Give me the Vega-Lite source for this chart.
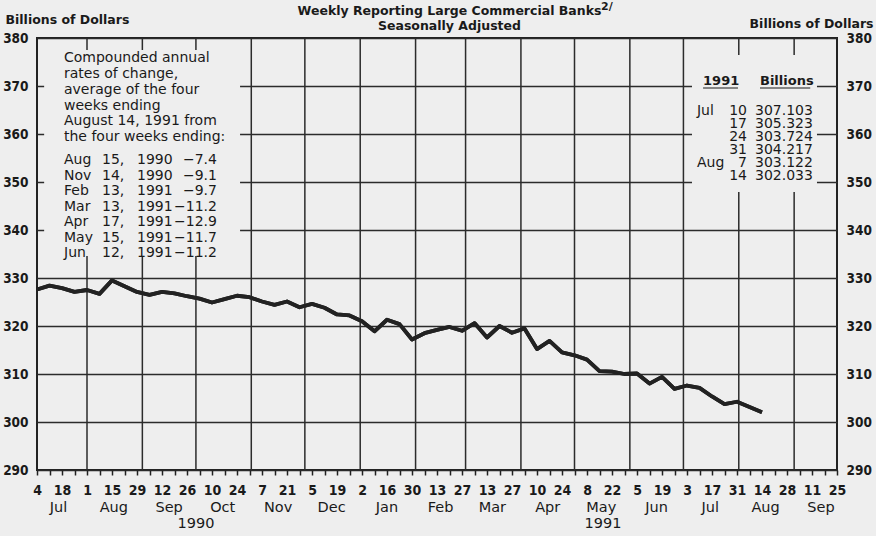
{
  "$schema": "https://vega.github.io/schema/vega-lite/v6.json",
  "width": 800,
  "height": 432,
  "autosize": {"type": "none"},
  "padding": {"left": 37, "top": 38, "right": 39, "bottom": 66},
  "background": "#eeeeee",
  "config": {
    "view": {"stroke": "#222222", "strokeWidth": 2},
    "font": "DejaVu Sans",
    "axisX": {"labelOverlap": false, "labelFlush": false},
    "axis": {"labelOverlap": false}
  },
  "datasets": {
    "series": [
      {"date": "1990-07-04", "value": 327.6},
      {"date": "1990-07-11", "value": 328.4},
      {"date": "1990-07-18", "value": 327.9},
      {"date": "1990-07-25", "value": 327.1},
      {"date": "1990-08-01", "value": 327.5},
      {"date": "1990-08-08", "value": 326.7},
      {"date": "1990-08-15", "value": 329.5},
      {"date": "1990-08-22", "value": 328.3},
      {"date": "1990-08-29", "value": 327.1},
      {"date": "1990-09-05", "value": 326.5},
      {"date": "1990-09-12", "value": 327.1},
      {"date": "1990-09-19", "value": 326.8},
      {"date": "1990-09-26", "value": 326.2},
      {"date": "1990-10-03", "value": 325.7},
      {"date": "1990-10-10", "value": 324.9},
      {"date": "1990-10-17", "value": 325.6},
      {"date": "1990-10-24", "value": 326.3},
      {"date": "1990-10-31", "value": 326.0},
      {"date": "1990-11-07", "value": 325.1},
      {"date": "1990-11-14", "value": 324.4},
      {"date": "1990-11-21", "value": 325.1},
      {"date": "1990-11-28", "value": 323.9},
      {"date": "1990-12-05", "value": 324.6},
      {"date": "1990-12-12", "value": 323.8},
      {"date": "1990-12-19", "value": 322.4},
      {"date": "1990-12-26", "value": 322.2},
      {"date": "1991-01-02", "value": 321.0},
      {"date": "1991-01-09", "value": 318.9},
      {"date": "1991-01-16", "value": 321.3},
      {"date": "1991-01-23", "value": 320.4},
      {"date": "1991-01-30", "value": 317.2},
      {"date": "1991-02-06", "value": 318.5},
      {"date": "1991-02-13", "value": 319.2},
      {"date": "1991-02-20", "value": 319.8},
      {"date": "1991-02-27", "value": 319.0},
      {"date": "1991-03-06", "value": 320.6},
      {"date": "1991-03-13", "value": 317.6},
      {"date": "1991-03-20", "value": 320.0},
      {"date": "1991-03-27", "value": 318.6},
      {"date": "1991-04-03", "value": 319.5},
      {"date": "1991-04-10", "value": 315.2},
      {"date": "1991-04-17", "value": 316.9},
      {"date": "1991-04-24", "value": 314.5},
      {"date": "1991-05-01", "value": 313.9},
      {"date": "1991-05-08", "value": 313.0},
      {"date": "1991-05-15", "value": 310.6},
      {"date": "1991-05-22", "value": 310.5},
      {"date": "1991-05-29", "value": 310.0},
      {"date": "1991-06-05", "value": 310.1},
      {"date": "1991-06-12", "value": 308.0},
      {"date": "1991-06-19", "value": 309.4},
      {"date": "1991-06-26", "value": 306.9},
      {"date": "1991-07-03", "value": 307.6},
      {"date": "1991-07-10", "value": 307.103},
      {"date": "1991-07-17", "value": 305.323},
      {"date": "1991-07-24", "value": 303.724},
      {"date": "1991-07-31", "value": 304.217},
      {"date": "1991-08-07", "value": 303.122},
      {"date": "1991-08-14", "value": 302.033}
    ],
    "monthStarts": [
      {"d": "1990-08-01"}, {"d": "1990-09-01"}, {"d": "1990-10-01"}, {"d": "1990-11-01"},
      {"d": "1990-12-01"}, {"d": "1991-01-01"}, {"d": "1991-02-01"}, {"d": "1991-03-01"},
      {"d": "1991-04-01"}, {"d": "1991-05-01"}, {"d": "1991-06-01"}, {"d": "1991-07-01"},
      {"d": "1991-08-01"}, {"d": "1991-09-01"}
    ],
    "monthLabels": [
      {"d": "1990-07-16", "label": "Jul"}, {"d": "1990-08-16", "label": "Aug"},
      {"d": "1990-09-16", "label": "Sep"}, {"d": "1990-10-16", "label": "Oct"},
      {"d": "1990-11-16", "label": "Nov"}, {"d": "1990-12-16", "label": "Dec"},
      {"d": "1991-01-16", "label": "Jan"}, {"d": "1991-02-15", "label": "Feb"},
      {"d": "1991-03-16", "label": "Mar"}, {"d": "1991-04-16", "label": "Apr"},
      {"d": "1991-05-16", "label": "May"}, {"d": "1991-06-16", "label": "Jun"},
      {"d": "1991-07-16", "label": "Jul"}, {"d": "1991-08-16", "label": "Aug"},
      {"d": "1991-09-16", "label": "Sep"}
    ],
    "years": [
      {"d": "1990-10-01", "label": "1990"},
      {"d": "1991-05-17", "label": "1991"}
    ]
  },
  "layer": [
    {
      "data": {"name": "series"},
      "mark": {"type": "line", "color": "#222222", "strokeWidth": 3.8, "strokeJoin": "round"},
      "encoding": {
        "x": {
          "field": "date", "type": "temporal", "title": null,
          "scale": {"type": "utc", "nice": false, "domain": [{"year": 1990, "month": 7, "date": 4, "utc": true}, {"year": 1991, "month": 9, "date": 25, "utc": true}]},
          "axis": {
            "orient": "bottom",
            "tickCount": 500,
            "values": [
              {"year": 1990, "month": 7, "date": 4, "utc": true}, {"year": 1990, "month": 7, "date": 11, "utc": true},
              {"year": 1990, "month": 7, "date": 18, "utc": true}, {"year": 1990, "month": 7, "date": 25, "utc": true},
              {"year": 1990, "month": 8, "date": 1, "utc": true}, {"year": 1990, "month": 8, "date": 8, "utc": true},
              {"year": 1990, "month": 8, "date": 15, "utc": true}, {"year": 1990, "month": 8, "date": 22, "utc": true},
              {"year": 1990, "month": 8, "date": 29, "utc": true}, {"year": 1990, "month": 9, "date": 5, "utc": true},
              {"year": 1990, "month": 9, "date": 12, "utc": true}, {"year": 1990, "month": 9, "date": 19, "utc": true},
              {"year": 1990, "month": 9, "date": 26, "utc": true}, {"year": 1990, "month": 10, "date": 3, "utc": true},
              {"year": 1990, "month": 10, "date": 10, "utc": true}, {"year": 1990, "month": 10, "date": 17, "utc": true},
              {"year": 1990, "month": 10, "date": 24, "utc": true}, {"year": 1990, "month": 10, "date": 31, "utc": true},
              {"year": 1990, "month": 11, "date": 7, "utc": true}, {"year": 1990, "month": 11, "date": 14, "utc": true},
              {"year": 1990, "month": 11, "date": 21, "utc": true}, {"year": 1990, "month": 11, "date": 28, "utc": true},
              {"year": 1990, "month": 12, "date": 5, "utc": true}, {"year": 1990, "month": 12, "date": 12, "utc": true},
              {"year": 1990, "month": 12, "date": 19, "utc": true}, {"year": 1990, "month": 12, "date": 26, "utc": true},
              {"year": 1991, "month": 1, "date": 2, "utc": true}, {"year": 1991, "month": 1, "date": 9, "utc": true},
              {"year": 1991, "month": 1, "date": 16, "utc": true}, {"year": 1991, "month": 1, "date": 23, "utc": true},
              {"year": 1991, "month": 1, "date": 30, "utc": true}, {"year": 1991, "month": 2, "date": 6, "utc": true},
              {"year": 1991, "month": 2, "date": 13, "utc": true}, {"year": 1991, "month": 2, "date": 20, "utc": true},
              {"year": 1991, "month": 2, "date": 27, "utc": true}, {"year": 1991, "month": 3, "date": 6, "utc": true},
              {"year": 1991, "month": 3, "date": 13, "utc": true}, {"year": 1991, "month": 3, "date": 20, "utc": true},
              {"year": 1991, "month": 3, "date": 27, "utc": true}, {"year": 1991, "month": 4, "date": 3, "utc": true},
              {"year": 1991, "month": 4, "date": 10, "utc": true}, {"year": 1991, "month": 4, "date": 17, "utc": true},
              {"year": 1991, "month": 4, "date": 24, "utc": true}, {"year": 1991, "month": 5, "date": 1, "utc": true},
              {"year": 1991, "month": 5, "date": 8, "utc": true}, {"year": 1991, "month": 5, "date": 15, "utc": true},
              {"year": 1991, "month": 5, "date": 22, "utc": true}, {"year": 1991, "month": 5, "date": 29, "utc": true},
              {"year": 1991, "month": 6, "date": 5, "utc": true}, {"year": 1991, "month": 6, "date": 12, "utc": true},
              {"year": 1991, "month": 6, "date": 19, "utc": true}, {"year": 1991, "month": 6, "date": 26, "utc": true},
              {"year": 1991, "month": 7, "date": 3, "utc": true}, {"year": 1991, "month": 7, "date": 10, "utc": true},
              {"year": 1991, "month": 7, "date": 17, "utc": true}, {"year": 1991, "month": 7, "date": 24, "utc": true},
              {"year": 1991, "month": 7, "date": 31, "utc": true}, {"year": 1991, "month": 8, "date": 7, "utc": true},
              {"year": 1991, "month": 8, "date": 14, "utc": true}, {"year": 1991, "month": 8, "date": 21, "utc": true},
              {"year": 1991, "month": 8, "date": 28, "utc": true}, {"year": 1991, "month": 9, "date": 4, "utc": true},
              {"year": 1991, "month": 9, "date": 11, "utc": true}, {"year": 1991, "month": 9, "date": 18, "utc": true},
              {"year": 1991, "month": 9, "date": 25, "utc": true}
            ],
            "labelExpr": "round((datum.value - utc(1990, 6, 4)) / 604800000) % 2 == 0 ? utcFormat(datum.value, '%-d') : ''",
            "tickSize": 5, "tickColor": "#222222", "tickWidth": 1.5,
            "domain": false, "grid": false, "labelFlush": false, "labelOverlap": false, "labelAngle": 0,
            "labelPadding": 8,
            "labelFont": "DejaVu Sans Condensed", "labelFontSize": 14, "labelFontWeight": "bold", "labelColor": "#1a1a1a"
          }
        },
        "y": {
          "field": "value", "type": "quantitative",
          "scale": {"domain": [290, 380], "nice": false, "zero": false},
          "axis": {
            "orient": "left", "values": [290, 300, 310, 320, 330, 340, 350, 360, 370, 380], "tickCount": 100,
            "grid": true, "gridColor": "#2b2b2b", "gridWidth": 1.5, "gridOpacity": 1,
            "ticks": false, "domain": false, "labelPadding": 9,
            "labelFont": "DejaVu Sans Condensed", "labelFontWeight": "bold", "labelFontSize": 13.5, "labelColor": "#1a1a1a",
            "title": "Billions of Dollars", "titleAngle": 0, "titleX": -32, "titleY": -15, "titleAlign": "left", "titleBaseline": "alphabetic",
            "titleFont": "DejaVu Sans", "titleFontSize": 12.5, "titleFontWeight": "bold", "titleColor": "#1a1a1a"
          }
        }
      }
    },
    {
      "data": {"name": "monthStarts"},
      "mark": {"type": "rule", "color": "#2b2b2b", "strokeWidth": 1.5},
      "encoding": {
        "x": {"field": "d", "type": "temporal", "title": null}
      }
    },
    {
      "data": {"values": [{}]},
      "mark": {"type": "rect", "fill": "#eeeeee"},
      "encoding": {
        "x": {"datum": {"year": 1990, "month": 7, "date": 8, "utc": true}, "type": "temporal", "title": null},
        "x2": {"datum": {"year": 1990, "month": 10, "date": 25, "hours": 17, "utc": true}},
        "y": {"datum": 377.5, "type": "quantitative", "axis": null},
        "y2": {"datum": 334.6}
      }
    },
    {
      "data": {"values": [{}]},
      "mark": {"type": "rect", "fill": "#eeeeee"},
      "encoding": {
        "x": {"datum": {"year": 1991, "month": 7, "date": 5, "hours": 19, "utc": true}, "type": "temporal", "title": null},
        "x2": {"datum": {"year": 1991, "month": 9, "date": 13, "hours": 19, "utc": true}},
        "y": {
          "datum": 376.46, "type": "quantitative",
          "axis": {
            "orient": "right", "values": [290, 300, 310, 320, 330, 340, 350, 360, 370, 380], "tickCount": 100,
            "grid": false, "ticks": false, "domain": false, "labelPadding": 9,
            "labelFont": "DejaVu Sans Condensed", "labelFontWeight": "bold", "labelFontSize": 13.5, "labelColor": "#1a1a1a",
            "title": "Billions of Dollars", "titleAngle": 0, "titleX": 36, "titleY": -11, "titleAlign": "right", "titleBaseline": "alphabetic",
            "titleFont": "DejaVu Sans", "titleFontSize": 12.5, "titleFontWeight": "bold", "titleColor": "#1a1a1a"
          }
        },
        "y2": {"datum": 347.9}
      }
    },
    {
      "data": {"name": "series"},
      "mark": {"type": "line", "color": "#222222", "strokeWidth": 3.8, "strokeJoin": "round"},
      "encoding": {
        "x": {"field": "date", "type": "temporal", "title": null},
        "y": {"field": "value", "type": "quantitative", "axis": null}
      }
    },
    {
      "data": {"values": [{}]},
      "mark": {"type": "text", "text": "Weekly Reporting Large Commercial Banks", "align": "center", "baseline": "alphabetic", "font": "DejaVu Sans", "fontSize": 12.5, "fontWeight": "bold", "color": "#1a1a1a"},
      "encoding": {
        "x": {"datum": {"year": 1991, "month": 2, "date": 20, "utc": true}, "type": "temporal", "title": null},
        "y": {"datum": 384.79, "type": "quantitative", "axis": null}
      }
    },
    {
      "data": {"values": [{}]},
      "mark": {"type": "text", "text": "Seasonally Adjusted", "align": "center", "baseline": "alphabetic", "font": "DejaVu Sans", "fontSize": 12.5, "fontWeight": "bold", "color": "#1a1a1a"},
      "encoding": {
        "x": {"datum": {"year": 1991, "month": 2, "date": 20, "utc": true}, "type": "temporal", "title": null},
        "y": {"datum": 381.67, "type": "quantitative", "axis": null}
      }
    },
    {
      "data": {"values": [{}]},
      "mark": {"type": "text", "text": "2/", "align": "left", "baseline": "alphabetic", "font": "DejaVu Sans", "fontSize": 11, "fontWeight": "bold", "color": "#1a1a1a"},
      "encoding": {
        "x": {"datum": {"year": 1991, "month": 5, "date": 15, "hours": 20, "utc": true}, "type": "temporal", "title": null},
        "y": {"datum": 385.8, "type": "quantitative", "axis": null}
      }
    },
    {
      "data": {"values": [{}]},
      "mark": {"type": "text", "text": ["Compounded annual", "rates of change,", "average of the four", "weeks ending", "August 14, 1991 from", "the four weeks ending:"], "align": "left", "baseline": "alphabetic", "font": "DejaVu Sans", "fontSize": 14, "lineHeight": 15.7, "color": "#1a1a1a"},
      "encoding": {
        "x": {"datum": {"year": 1990, "month": 7, "date": 19, "hours": 3, "utc": true}, "type": "temporal", "title": null},
        "y": {"datum": 374.9, "type": "quantitative", "axis": null}
      }
    },
    {
      "data": {"values": [{}]},
      "mark": {"type": "text", "text": ["Aug", "Nov", "Feb", "Mar", "Apr", "May", "Jun"], "align": "left", "baseline": "alphabetic", "font": "DejaVu Sans", "fontSize": 14, "lineHeight": 15.5, "color": "#1a1a1a"},
      "encoding": {
        "x": {"datum": {"year": 1990, "month": 7, "date": 19, "hours": 3, "utc": true}, "type": "temporal", "title": null},
        "y": {"datum": 353.65, "type": "quantitative", "axis": null}
      }
    },
    {
      "data": {"values": [{}]},
      "mark": {"type": "text", "text": ["15,", "14,", "13,", "13,", "17,", "15,", "12,"], "align": "left", "baseline": "alphabetic", "font": "DejaVu Sans", "fontSize": 14, "lineHeight": 15.5, "color": "#1a1a1a"},
      "encoding": {
        "x": {"datum": {"year": 1990, "month": 8, "date": 9, "hours": 10, "utc": true}, "type": "temporal", "title": null},
        "y": {"datum": 353.65, "type": "quantitative", "axis": null}
      }
    },
    {
      "data": {"values": [{}]},
      "mark": {"type": "text", "text": ["1990", "1990", "1991", "1991", "1991", "1991", "1991"], "align": "left", "baseline": "alphabetic", "font": "DejaVu Sans", "fontSize": 14, "lineHeight": 15.5, "color": "#1a1a1a"},
      "encoding": {
        "x": {"datum": {"year": 1990, "month": 8, "date": 29, "utc": true}, "type": "temporal", "title": null},
        "y": {"datum": 353.65, "type": "quantitative", "axis": null}
      }
    },
    {
      "data": {"values": [{}]},
      "mark": {"type": "text", "text": ["−7.4", "−9.1", "−9.7", "−11.2", "−12.9", "−11.7", "−11.2"], "align": "right", "baseline": "alphabetic", "font": "DejaVu Sans", "fontSize": 14, "lineHeight": 15.5, "color": "#1a1a1a"},
      "encoding": {
        "x": {"datum": {"year": 1990, "month": 10, "date": 12, "hours": 19, "utc": true}, "type": "temporal", "title": null},
        "y": {"datum": 353.65, "type": "quantitative", "axis": null}
      }
    },
    {
      "data": {"values": [{}]},
      "mark": {"type": "text", "text": "1991", "align": "left", "baseline": "alphabetic", "font": "DejaVu Sans", "fontSize": 13, "fontWeight": "bold", "color": "#1a1a1a"},
      "encoding": {
        "x": {"datum": {"year": 1991, "month": 7, "date": 12, "utc": true}, "type": "temporal", "title": null},
        "y": {"datum": 370.21, "type": "quantitative", "axis": null}
      }
    },
    {
      "data": {"values": [{}]},
      "mark": {"type": "text", "text": "Billions", "align": "left", "baseline": "alphabetic", "font": "DejaVu Sans", "fontSize": 13, "fontWeight": "bold", "color": "#1a1a1a"},
      "encoding": {
        "x": {"datum": {"year": 1991, "month": 8, "date": 12, "hours": 21, "utc": true}, "type": "temporal", "title": null},
        "y": {"datum": 370.21, "type": "quantitative", "axis": null}
      }
    },
    {
      "data": {"values": [{}]},
      "mark": {"type": "rule", "color": "#1a1a1a", "strokeWidth": 1.2},
      "encoding": {
        "x": {"datum": {"year": 1991, "month": 7, "date": 12, "utc": true}, "type": "temporal", "title": null},
        "x2": {"datum": {"year": 1991, "month": 7, "date": 31, "hours": 13, "utc": true}},
        "y": {"datum": 369.58, "type": "quantitative", "axis": null}
      }
    },
    {
      "data": {"values": [{}]},
      "mark": {"type": "rule", "color": "#1a1a1a", "strokeWidth": 1.2},
      "encoding": {
        "x": {"datum": {"year": 1991, "month": 8, "date": 12, "hours": 21, "utc": true}, "type": "temporal", "title": null},
        "x2": {"datum": {"year": 1991, "month": 9, "date": 10, "utc": true}},
        "y": {"datum": 369.58, "type": "quantitative", "axis": null}
      }
    },
    {
      "data": {"values": [{}]},
      "mark": {"type": "text", "text": "Jul", "align": "left", "baseline": "alphabetic", "font": "DejaVu Sans", "fontSize": 14, "color": "#1a1a1a"},
      "encoding": {
        "x": {"datum": {"year": 1991, "month": 7, "date": 8, "hours": 14, "utc": true}, "type": "temporal", "title": null},
        "y": {"datum": 363.96, "type": "quantitative", "axis": null}
      }
    },
    {
      "data": {"values": [{}]},
      "mark": {"type": "text", "text": "Aug", "align": "left", "baseline": "alphabetic", "font": "DejaVu Sans", "fontSize": 14, "color": "#1a1a1a"},
      "encoding": {
        "x": {"datum": {"year": 1991, "month": 7, "date": 8, "hours": 14, "utc": true}, "type": "temporal", "title": null},
        "y": {"datum": 353.04, "type": "quantitative", "axis": null}
      }
    },
    {
      "data": {"values": [{}]},
      "mark": {"type": "text", "text": ["10", "17", "24", "31", "7", "14"], "align": "right", "baseline": "alphabetic", "font": "DejaVu Sans", "fontSize": 14, "lineHeight": 13.1, "color": "#1a1a1a"},
      "encoding": {
        "x": {"datum": {"year": 1991, "month": 8, "date": 5, "hours": 14, "utc": true}, "type": "temporal", "title": null},
        "y": {"datum": 363.96, "type": "quantitative", "axis": null}
      }
    },
    {
      "data": {"values": [{}]},
      "mark": {"type": "text", "text": ["307.103", "305.323", "303.724", "304.217", "303.122", "302.033"], "align": "left", "baseline": "alphabetic", "font": "DejaVu Sans", "fontSize": 14, "lineHeight": 13.1, "color": "#1a1a1a"},
      "encoding": {
        "x": {"datum": {"year": 1991, "month": 8, "date": 10, "hours": 2, "utc": true}, "type": "temporal", "title": null},
        "y": {"datum": 363.96, "type": "quantitative", "axis": null}
      }
    },
    {
      "data": {"name": "monthLabels"},
      "mark": {"type": "text", "align": "center", "baseline": "alphabetic", "font": "DejaVu Sans", "fontSize": 14.5, "color": "#1a1a1a"},
      "encoding": {
        "x": {"field": "d", "type": "temporal", "title": null},
        "y": {"datum": 281.25, "type": "quantitative", "axis": null},
        "text": {"field": "label", "type": "nominal"}
      }
    },
    {
      "data": {"name": "years"},
      "mark": {"type": "text", "align": "center", "baseline": "alphabetic", "font": "DejaVu Sans", "fontSize": 14.5, "color": "#1a1a1a"},
      "encoding": {
        "x": {"field": "d", "type": "temporal", "title": null},
        "y": {"datum": 277.92, "type": "quantitative", "axis": null},
        "text": {"field": "label", "type": "nominal"}
      }
    }
  ],
  "resolve": {"axis": {"y": "independent"}}
}
